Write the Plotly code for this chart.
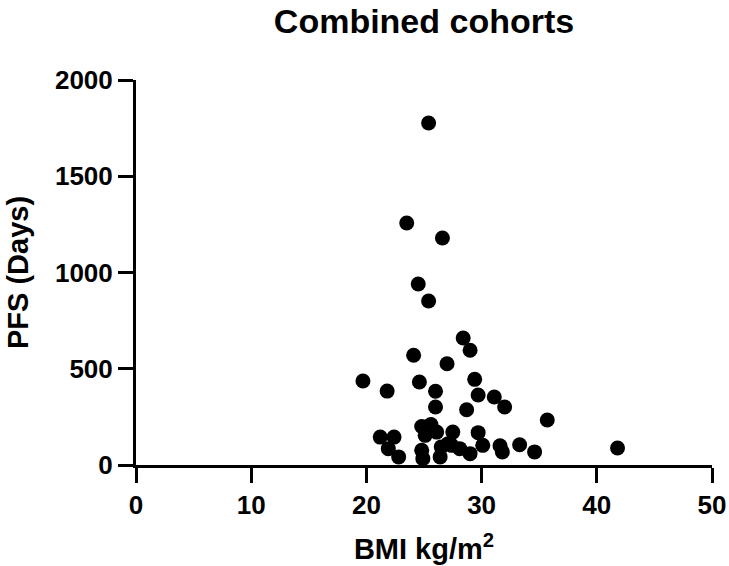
import plotly.graph_objects as go

bmi = [25.4, 23.5, 26.6, 24.5, 25.4, 28.4, 29.0, 24.1, 27.0, 19.7, 24.6, 29.4,
       21.8, 26.0, 29.7, 31.1, 32.0, 26.0, 28.7, 35.7, 24.8, 25.6, 26.1, 27.5,
       29.7, 25.1, 21.2, 22.4, 21.9, 22.8, 24.8, 24.9, 26.5, 26.4, 27.1, 30.1,
       31.6, 31.8, 27.4, 28.1, 29.0, 33.3, 34.6, 41.8]
pfs = [1777, 1257, 1179, 940, 852, 660, 596, 570, 526, 436, 431, 445,
       384, 383, 364, 353, 301, 301, 287, 234, 200, 210, 171, 171,
       168, 154, 145, 145, 85, 42, 76, 33, 94, 42, 111, 102,
       100, 68, 102, 85, 59, 105, 68, 88]

x_ticks = [0, 10, 20, 30, 40, 50]
y_ticks = [0, 500, 1000, 1500, 2000]

FONT = "Liberation Sans, Arial, sans-serif"

fig = go.Figure(go.Scatter(
    x=bmi, y=pfs, mode="markers",
    marker=dict(color="black", size=15, line=dict(width=0)),
    cliponaxis=False, showlegend=False,
))

fig.update_layout(
    width=729, height=566,
    margin=dict(l=135.5, r=17, t=80, b=101, autoexpand=False),
    paper_bgcolor="white", plot_bgcolor="white",
    title=dict(text="Combined cohorts", x=0.5, xref="paper", xanchor="center",
               y=0.962, yref="container", yanchor="middle",
               font=dict(family=FONT, size=34, color="black", weight="bold")),
    font=dict(family=FONT, color="black"),
)
fig.update_xaxes(
    range=[0, 50], tickvals=x_ticks, ticktext=[str(v) for v in x_ticks],
    showgrid=False, zeroline=False, showline=True, linecolor="black", linewidth=3,
    ticks="outside", ticklen=15, tickwidth=3, tickcolor="black",
    ticklabelstandoff=0,
    tickfont=dict(family=FONT, size=26, color="black", weight="bold"),
    title=dict(text="BMI kg/m<sup>2</sup>", standoff=20,
               font=dict(family=FONT, size=29, color="black", weight="bold")),
    automargin=False,
)
fig.update_yaxes(
    range=[0, 2000], tickvals=y_ticks, ticktext=[str(v) for v in y_ticks],
    showgrid=False, zeroline=False, showline=True, linecolor="black", linewidth=3,
    ticks="outside", ticklen=15, tickwidth=3, tickcolor="black",
    tickfont=dict(family=FONT, size=26, color="black", weight="bold"),
    title=dict(text="PFS (Days)", standoff=18,
               font=dict(family=FONT, size=29, color="black", weight="bold")),
    automargin=False,
)

fig.write_html("out.html")
